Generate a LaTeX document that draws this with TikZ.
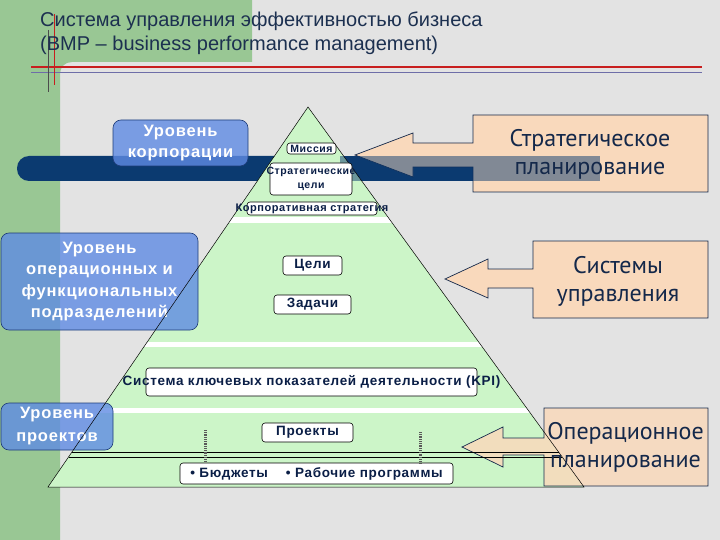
\documentclass[tikz,border=0pt]{standalone}
\usepackage{fontspec}
\setmainfont{Liberation Sans}
\newfontfamily\lblfont[LetterSpace=5]{Liberation Sans}
\newfontfamily\ptsans{PT Sans}
\definecolor{bg}{HTML}{E3E3E3}
\definecolor{sgreen}{HTML}{99C794}
\definecolor{pgreen}{HTML}{CCF5C8}
\definecolor{navy}{HTML}{0B3A70}
\definecolor{peach}{HTML}{F9D9BC}
\definecolor{lvlblue}{HTML}{5F8BE3}
\definecolor{lvlborder}{HTML}{1E3C78}
\definecolor{txtnavy}{HTML}{14284A}
\definecolor{lblnavy}{HTML}{0A1E46}
\definecolor{titlenavy}{HTML}{1C3050}
\definecolor{decored}{HTML}{C81E1E}
\definecolor{decoblue}{HTML}{6E6EA8}
\begin{document}
\begin{tikzpicture}[x=1pt,y=-1pt,
  lvl/.style={draw=lvlborder, line width=0.6pt, fill=lvlblue, fill opacity=0.8, text opacity=1, text=white,
    font=\lblfont\bfseries\fontsize{16.5}{21.5}\selectfont, align=center, rounded corners=8pt, inner sep=0pt},
  lbl/.style={draw=black, line width=0.6pt, fill=white, rounded corners=3pt, inner sep=0pt, text=lblnavy,
    font=\lblfont\bfseries\fontsize{13.5}{14}\selectfont, align=center},
  smalllbl/.style={lbl, font=\lblfont\bfseries\fontsize{10.5}{14}\selectfont},
  callout/.style={draw=txtnavy, line width=0.7pt, fill=peach},
  ctext/.style={text=txtnavy, font=\ptsans\fontsize{24}{28}\selectfont, align=center, inner sep=0pt},
  pline/.style={draw=black, line width=0.5pt},
  ttl/.style={anchor=base west, inner sep=0pt, text=titlenavy, font=\fontsize{20}{24}\selectfont},
  dotmark/.style={draw=gray!70!black, line width=3pt, dash pattern=on 1pt off 0.8pt}
]
\useasboundingbox (0,0) rectangle (720,540);
% background
\fill[bg] (0,0) rectangle (720,540);
\fill[sgreen] (0,0) -- (252,0) -- (252,62) -- (72,62) .. controls (65,62) and (60,67) .. (60,74) -- (60,540) -- (0,540) -- cycle;
% decorative lines
\draw[decored, line width=1.1pt] (31,67) -- (702,67);
\draw[decoblue, line width=0.8pt] (31,72) -- (702,72);
\draw[decored, line width=1pt] (54,14) -- (54,85);
\draw[gray!60!black, line width=0.6pt] (48,30) -- (48,92);
% title
\node[ttl] (t1) at (40,27) {Система управления эффективностью бизнеса};
\node[ttl] (t2) at (40,51) {(BMP – business performance management)};
% navy bar
\fill[navy, rounded corners=12pt] (17,156) -- (17,181) -- (300,181) -- (300,156) -- cycle;
\fill[navy] (290,156) rectangle (600,181);
% pyramid
\fill[pgreen] (308,107) -- (584,487) -- (48,487) -- cycle;
\begin{scope}
  \clip (308,107) -- (584,487) -- (48,487) -- cycle;
  \fill[white] (0,217) rectangle (720,223);
  \fill[white] (0,342) rectangle (720,347);
  \fill[white] (0,408) rectangle (720,413);
\end{scope}
% callouts
\draw[callout] (355,155) -- (413,133) -- (413,143) -- (473,143) -- (473,115) -- (708,115) -- (708,192)
  -- (473,192) -- (473,167) -- (413,167) -- (413,177) -- cycle;
\draw[callout] (445,279) -- (488,259) -- (488,269) -- (533,269) -- (533,241) -- (708,241) -- (708,318)
  -- (533,318) -- (533,288) -- (488,288) -- (488,298) -- cycle;
\draw[callout, fill opacity=0.85] (462,447) -- (503,427) -- (503,438) -- (544,438) -- (544,408) -- (708,408) -- (708,486)
  -- (544,486) -- (544,455) -- (503,455) -- (503,467) -- cycle;
\fill[navy, opacity=0.5] (340,156) rectangle (600,181);
% level boxes
\node[lvl, minimum width=135pt, minimum height=46pt] (corp) at (180.5,143) {Уровень\\корпорации};
\node[lvl, minimum width=197pt, minimum height=97pt] (oper) at (99.5,281.5) {\makebox[0pt]{Уровень}\\\makebox[0pt]{операционных и}\\\makebox[0pt]{функциональных}\\\makebox[0pt]{подразделений}};
\node[lvl, minimum width=112pt, minimum height=47pt, font=\lblfont\bfseries\fontsize{16.5}{23}\selectfont] (proj) at (57,426.5) {Уровень\\проектов};
% pyramid outline
\draw[pline] (48,487) -- (308,107) -- (584,487) -- cycle;
\draw[pline] (72,452) -- (558.5,452);
\draw[pline] (68.6,457) -- (562.1,457);
% pyramid labels
\node[smalllbl, minimum width=49pt, minimum height=11pt] (mission) at (311.5,148.5) {\makebox[0pt]{Миссия}};
\node[smalllbl, minimum width=82pt, minimum height=32pt] (sgoals) at (311,179) {\makebox[0pt]{Стратегические}\\\makebox[0pt]{цели}};
\node[smalllbl, minimum width=130pt, minimum height=13pt, font=\lblfont\bfseries\fontsize{11}{13}\selectfont] (cstrat) at (312,208.5) {\makebox[0pt]{Корпоративная стратегия}};
\node[lbl, minimum width=59pt, minimum height=19pt] (goals) at (312.5,265.5) {\makebox[0pt]{Цели}};
\node[lbl, minimum width=77pt, minimum height=19pt] (tasks) at (312.5,304.5) {\makebox[0pt]{Задачи}};
\node[lbl, minimum width=331pt, minimum height=28pt] (kpi) at (311.5,382) {\makebox[0pt]{Система ключевых показателей деятельности (KPI)}};
\node[lbl, minimum width=91pt, minimum height=19pt] (projects) at (307.5,432.5) {\makebox[0pt]{Проекты}};
\node[lbl, minimum width=273pt, minimum height=21pt] (budgets) at (316.5,473.5) {\makebox[0pt]{• Бюджеты\hspace{18pt}• Рабочие программы}};
% small dotted marks
\coordinate (m1a) at (205,430); \coordinate (m1b) at (205,462);
\coordinate (m2a) at (420,432); \coordinate (m2b) at (420,463);
\draw[dotmark] (m1a) -- (m1b);
\draw[dotmark] (m2a) -- (m2b);
% callout texts
\node[ctext] (c1) at (590,154) {Стратегическое\\планирование};
\node[ctext] (c2) at (618,281) {Системы\\управления};
\node[ctext] (c3) at (625.5,447) {Операционное\\планирование};
\end{tikzpicture}
\end{document}
